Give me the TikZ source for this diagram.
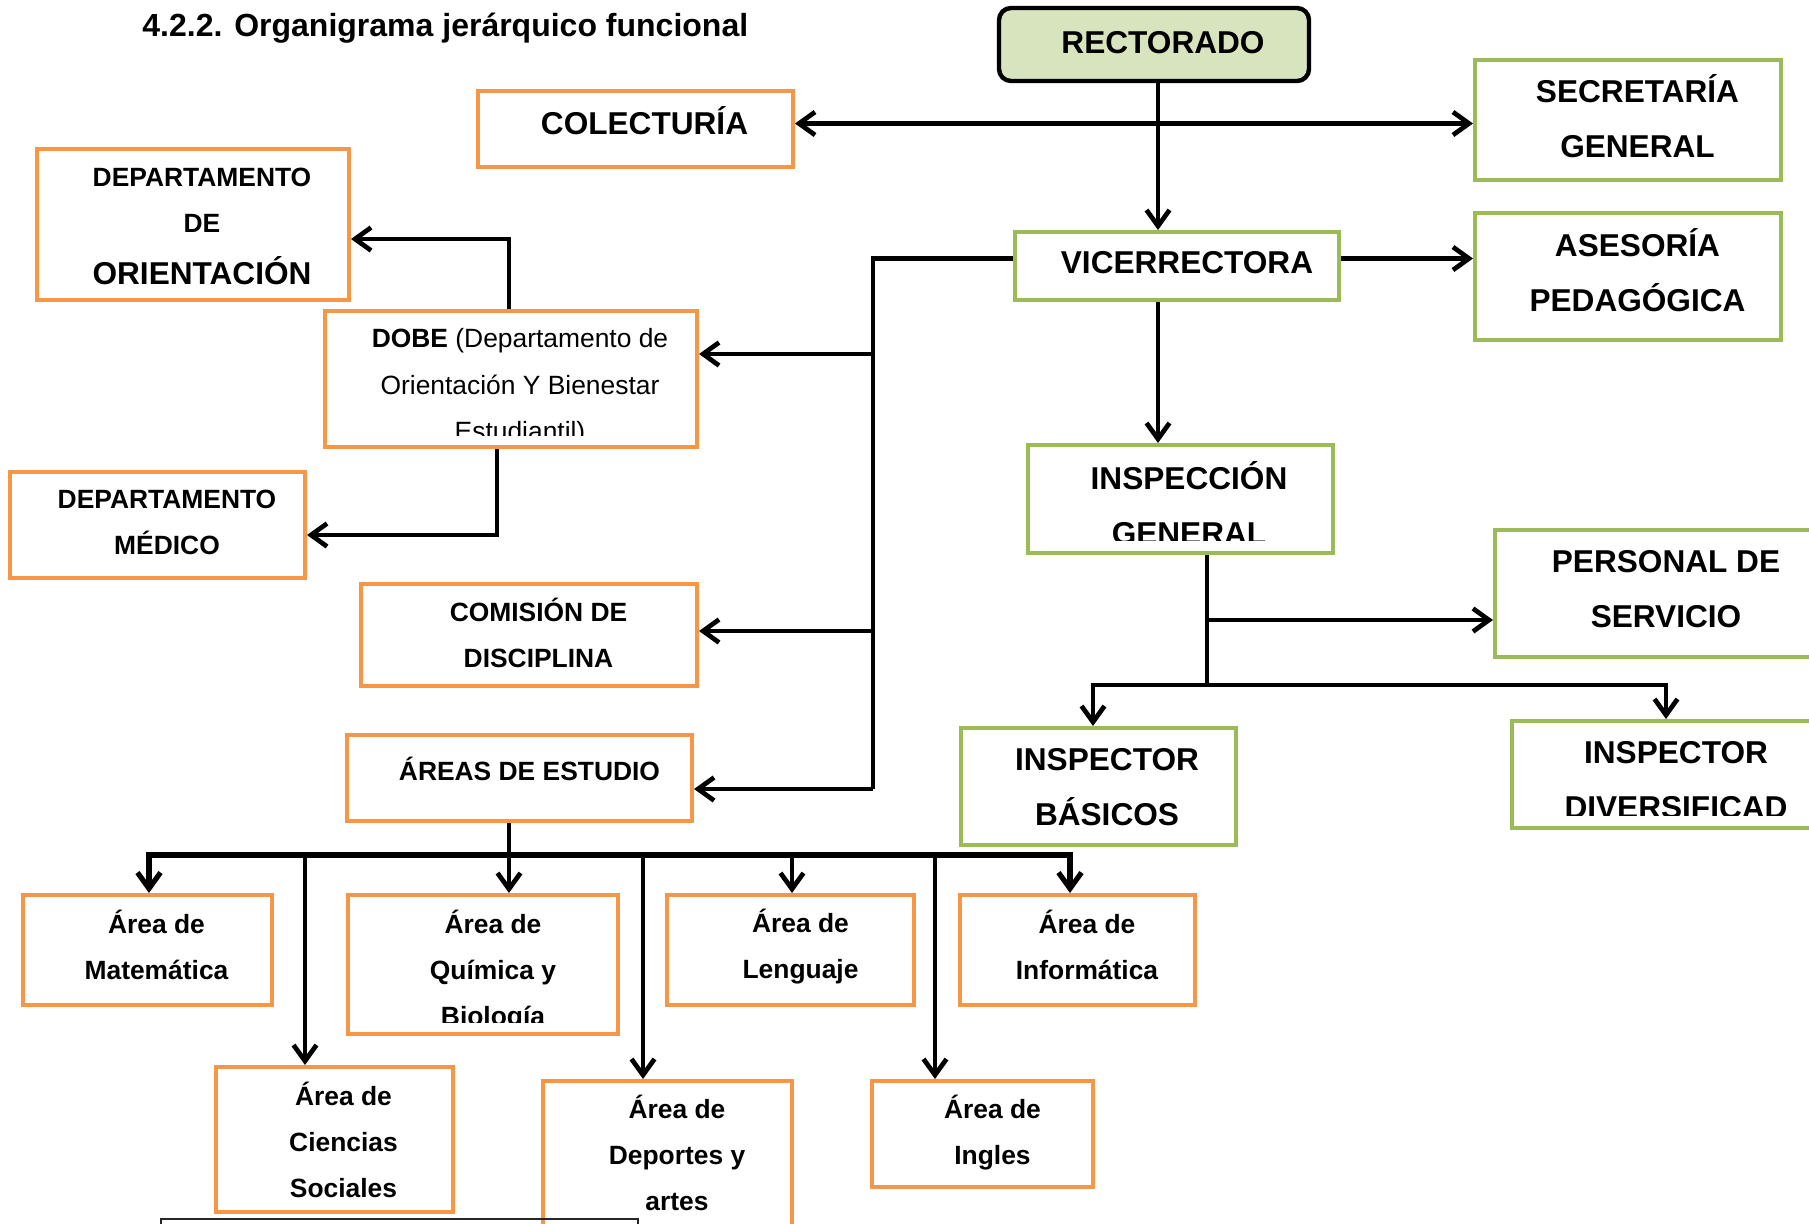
\documentclass[tikz,border=0pt]{standalone}
\usepackage{fontspec}
\setmainfont{Liberation Sans}
\usetikzlibrary{arrows.meta,fit}
\definecolor{org}{HTML}{F79646}
\definecolor{grn}{HTML}{9BBB59}
\definecolor{rfill}{HTML}{D7E4BD}
\newcommand{\bigtxt}{\fontsize{15.8}{27.5}\selectfont\bfseries}
\newcommand{\smtxt}{\fontsize{13.2}{23}\selectfont\bfseries}
\newcommand{\smreg}{\fontsize{13.2}{23.3}\selectfont}
\begin{document}
\begin{tikzpicture}[x=0.5pt,y=-0.5pt,
  obox/.style={draw=org,line width=2pt,inner sep=0pt},
  gbox/.style={draw=grn,line width=2pt,inner sep=0pt},
  big/.style={font=\bigtxt,align=center,inner sep=0pt},
  sm/.style={font=\smtxt,align=center,inner sep=0pt},
  smr/.style={font=\smreg,align=center,inner sep=0pt},
  ln/.style={line width=2.35pt,draw=black},
  arr/.style={ln,-{Straight Barb[length=8pt,width=11.5pt]}},
  arrb/.style={ln,{Straight Barb[length=8pt,width=11.5pt]}-{Straight Barb[length=8pt,width=11.5pt]}},
]
\useasboundingbox (0,0) rectangle (1809,1223);
\fill[white] (0,0) rectangle (1809,1223);
\clip (0,0) rectangle (1809,1223);

% title
\node[font=\fontsize{16}{19}\selectfont\bfseries,anchor=base west,inner sep=0pt] (title) at (142,36) {4.2.2. Organigrama jerárquico funcional};

% boxes
\node[fit={(999,8) (1309,81)},draw=black,line width=2.2pt,rounded corners=6pt,fill=rfill,inner sep=0pt] (rect) {};
\node[obox,fit={(478,91) (793,167)}] (colect) {};
\node[gbox,fit={(1475,60) (1781,180)}] (secre) {};
\node[gbox,fit={(1015,232) (1339,300)}] (vice) {};
\node[gbox,fit={(1475,213) (1781,340)}] (aseso) {};
\node[obox,fit={(37,149) (349,300)}] (orient) {};
\node[obox,fit={(325,311) (697,447)}] (dobe) {};
\node[obox,fit={(10,472) (305,578)}] (medico) {};
\node[obox,fit={(361,584) (697,686)}] (comision) {};
\node[obox,fit={(347,735) (692,821)}] (areas) {};
\node[gbox,fit={(1028,445) (1333,553)}] (insp) {};
\node[gbox,fit={(1495,530) (1830,657)}] (personal) {};
\node[gbox,fit={(961,728) (1236,845)}] (inspbas) {};
\node[gbox,fit={(1512,721) (1830,828)}] (inspdiv) {};
\node[obox,fit={(23,895) (272,1005)}] (mate) {};
\node[obox,fit={(348,895) (618,1034)}] (quim) {};
\node[obox,fit={(667,895) (914,1005)}] (leng) {};
\node[obox,fit={(960,895) (1195,1005)}] (info) {};
\node[obox,fit={(216,1067) (453,1212)}] (cienc) {};
\node[obox,fit={(543,1081) (792,1240)}] (deport) {};
\node[obox,fit={(872,1081) (1093,1187)}] (ingles) {};
\node[fit={(161,1219) (638,1240)},draw=black!85,line width=0.9pt,inner sep=0pt] (capbox) {};

% texts
\node[big] (rect-t) at (1163,43) {RECTORADO};
\node[big] (colect-t) at (644.5,121) {COLECTURÍA};
\node[big] (secre-t) at (1637.5,116.5) {SECRETARÍA\\GENERAL};
\node[big] (vice-t) at (1187,263) {VICERRECTORA};
\node[big] (aseso-t) at (1637.5,270.5) {ASESORÍA\\PEDAGÓGICA};
\node[sm] (orient-t1) at (202,200.5) {DEPARTAMENTO\\DE};
\node[big] (orient-t2) at (202,270.5) {ORIENTACIÓN};
\begin{scope}
\clip (327,313) rectangle (695,435);
\node[smr] (dobe-t) at (520,387.5) {\textbf{DOBE} (Departamento de\\Orientación Y Bienestar\\Estudiantil)};
\end{scope}
\node[sm] (medico-t) at (167,522.5) {DEPARTAMENTO\\MÉDICO};
\node[sm] (comision-t) at (538.5,633) {COMISIÓN DE\\DISCIPLINA};
\node[sm] (areas-t) at (529.5,768.5) {ÁREAS DE ESTUDIO};
\begin{scope}
\clip (1030,447) rectangle (1331,540);
\node[big] (insp-t) at (1189,503.5) {INSPECCIÓN\\GENERAL};
\end{scope}
\node[big] (personal-t) at (1666,589) {PERSONAL DE\\SERVICIO};
\node[big] (inspbas-t) at (1107,787.5) {INSPECTOR\\BÁSICOS};
\begin{scope}
\clip (1514,723) rectangle (1809,815);
\node[big] (inspdiv-t) at (1676,780.5) {INSPECTOR\\DIVERSIFICAD};
\end{scope}
\node[sm] (mate-t) at (156.5,944.5) {Área de\\Matemática};
\begin{scope}
\clip (350,897) rectangle (616,1022);
\node[sm] (quim-t) at (493,971) {Área de\\Química y\\Biología};
\end{scope}
\node[sm] (leng-t) at (800.5,947) {Área de\\Lenguaje};
\node[sm] (info-t) at (1087,944.5) {Área de\\Informática};
\node[sm] (cienc-t) at (343.5,1139.5) {Área de\\Ciencias\\Sociales};
\node[sm] (deport-t) at (677,1152.5) {Área de\\Deportes y\\artes};
\node[sm] (ingles-t) at (992.5,1132.5) {Área de\\Ingles};

% connector coordinates
\coordinate (xr) at (1158,0);
\coordinate (hy) at (0,123.5);
\coordinate (vy) at (0,258.5);
\coordinate (vt) at (873,258.5);
\coordinate (vd) at (873,354);
\coordinate (vc) at (873,631);
\coordinate (vb) at (873,789);
\coordinate (o1) at (509,239);
\coordinate (m1) at (497,535);
\coordinate (g1) at (1207,685);
\coordinate (g2) at (1207,620);
\coordinate (gb) at (1093,685);
\coordinate (gd) at (1666,685);
\coordinate (a0) at (509,855);
\coordinate (aL) at (149,855);
\coordinate (aR) at (1070,855);
\coordinate (a1) at (305,855);
\coordinate (a2) at (643,855);
\coordinate (a3) at (792,855);
\coordinate (a4) at (935,855);

% connectors
\draw[arrb] (colect.east |- hy) -- (secre.west |- hy);
\draw[arr] (rect.south -| xr) -- (vice.north -| xr);
\draw[arr] (vice.east |- vy) -- (aseso.west |- vy);
\draw[arr] (vice.south -| xr) -- (insp.north -| xr);
\draw[ln] (vice.west |- vt) -- (vt) -- (vb);
\draw[arr] (vd) -- (dobe.east |- vd);
\draw[arr] (vc) -- (comision.east |- vc);
\draw[arr] (vb) -- (areas.east |- vb);
\draw[arr] (dobe.north -| o1) -- (o1) -- (orient.east |- o1);
\draw[arr] (dobe.south -| m1) -- (m1) -- (medico.east |- m1);
\draw[ln] (insp.south -| g1) -- (g1);
\draw[arr] (g2) -- (personal.west |- g2);
\draw[arr] (g1) -- (gb) -- (inspbas.north -| gb);
\draw[arr] (g1) -- (gd) -- (inspdiv.north -| gd);
\draw[arr] (areas.south -| a0) -- (quim.north -| a0);
\draw[arr,line width=2.6pt] (a0) -- (aL) -- (mate.north -| aL);
\draw[arr,line width=2.6pt] (a0) -- (aR) -- (info.north -| aR);
\draw[arr] (a1) -- (cienc.north -| a1);
\draw[arr] (a2) -- (deport.north -| a2);
\draw[arr] (a3) -- (leng.north -| a3);
\draw[arr] (a4) -- (ingles.north -| a4);
\end{tikzpicture}
\end{document}
